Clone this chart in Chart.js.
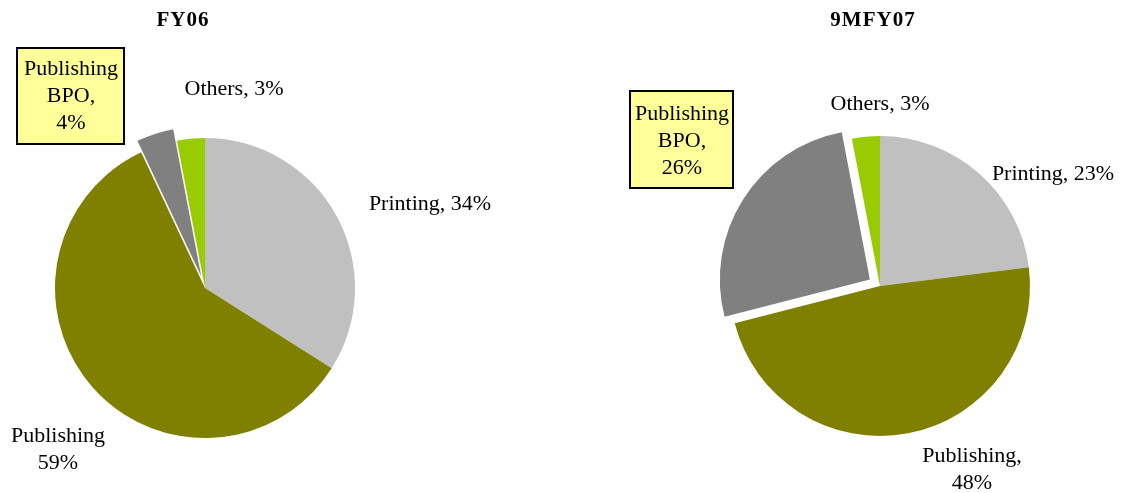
<!DOCTYPE html>
<html>
<head>
<meta charset="utf-8">
<script src="https://cdn.jsdelivr.net/npm/chart.js@4.4.0/dist/chart.umd.min.js"></script>
<style>
  body { margin: 0; background: #fff; }
  #wrap { position: relative; width: 1144px; height: 493px; }
  #wrap canvas { position: absolute; left: 0; top: 0; }
</style>
</head>
<body>
<div id="wrap">
  <canvas id="fy06" width="1144" height="493"></canvas>
  <canvas id="fy07" width="1144" height="493"></canvas>
</div>
<script>
// Segments, clockwise from 12 o'clock
const segments = ['Printing', 'Publishing', 'Publishing BPO', 'Others'];
const fy06Values = [34, 59, 4, 3];
const fy07Values = [23, 48, 26, 3];
const sliceColors = ['#C0C0C0', '#808000', '#808080', '#99CC00'];
const explode = [0, 0, 12, 0]; // BPO slice pulled out (px)

const SERIF = '"Liberation Serif", "Times New Roman", serif';

// text placement per chart (page pixels)
const fy06Text = {
  title: { text: 'FY06', x: 183, y: 26 },
  box: { x: 17, y: 48, w: 107, h: 96 },
  labels: [
    { lines: ['Printing, 34%'], x: 430, y: 210 },
    { lines: ['Publishing', '59%'], x: 58, y: 442 },
    { lines: ['Publishing', 'BPO,', '4%'], x: 71, y: 75 },
    { lines: ['Others, 3%'], x: 234, y: 95 }
  ]
};
const fy07Text = {
  title: { text: '9MFY07', x: 873, y: 26 },
  box: { x: 630, y: 91, w: 103, h: 97 },
  labels: [
    { lines: ['Printing, 23%'], x: 1053, y: 180 },
    { lines: ['Publishing,', '48%'], x: 972, y: 462 },
    { lines: ['Publishing', 'BPO,', '26%'], x: 682, y: 120 },
    { lines: ['Others, 3%'], x: 880, y: 110 }
  ]
};

// move exploded slices out along their mid angle, keeping the radius
// (chart.js "offset" also grows thin slices, so shift the arc centre instead)
const explodePlugin = {
  id: 'explode',
  afterDatasetsUpdate(chart) {
    const arcs = chart.getDatasetMeta(0).data;
    arcs.forEach((arc, i) => {
      const d = explode[i];
      if (!d) return;
      const mid = (arc.startAngle + arc.endAngle) / 2;
      arc.x += Math.cos(mid) * d;
      arc.y += Math.sin(mid) * d;
    });
  }
};

// draws title, yellow callout box and slice labels
const textPlugin = {
  id: 'pieText',
  afterDraw(chart, args, opts) {
    const ctx = chart.ctx;
    const t = opts.layout;
    ctx.save();
    // callout box
    ctx.fillStyle = '#FFFF99';
    ctx.fillRect(t.box.x, t.box.y, t.box.w, t.box.h);
    ctx.lineWidth = 2;
    ctx.strokeStyle = '#000';
    ctx.strokeRect(t.box.x, t.box.y, t.box.w, t.box.h);

    ctx.fillStyle = '#000';
    ctx.textAlign = 'center';
    ctx.textBaseline = 'alphabetic';
    ctx.font = 'bold 21px ' + SERIF;
    ctx.letterSpacing = '1px';
    ctx.fillText(t.title.text, t.title.x, t.title.y);
    ctx.letterSpacing = '0px';

    ctx.font = '22px ' + SERIF;
    t.labels.forEach(l => {
      l.lines.forEach((line, i) => {
        ctx.fillText(line, l.x, l.y + i * 27);
      });
    });
    ctx.restore();
  }
};

const makePie = (id, values, padding, layout) => {
  const context = document.getElementById(id).getContext('2d');
  return new Chart(context, {
    type: 'pie',
    data: {
      labels: segments,
      datasets: [{
        data: values,
        backgroundColor: sliceColors,
        borderWidth: 0
      }]
    },
    options: {
      responsive: false,
      animation: false,
      radius: 150,
      layout: { padding: padding },
      plugins: {
        legend: { display: false },
        tooltip: { enabled: false },
        pieText: { layout: layout }
      }
    },
    plugins: [explodePlugin, textPlugin]
  });
};

// padding puts the pie centres at (205,288) and (880,286)
makePie('fy06', fy06Values, { left: 0, right: 734, top: 83, bottom: 0 }, fy06Text);
makePie('fy07', fy07Values, { left: 730, right: 114, top: 100, bottom: 21 }, fy07Text);
</script>
</body>
</html>
